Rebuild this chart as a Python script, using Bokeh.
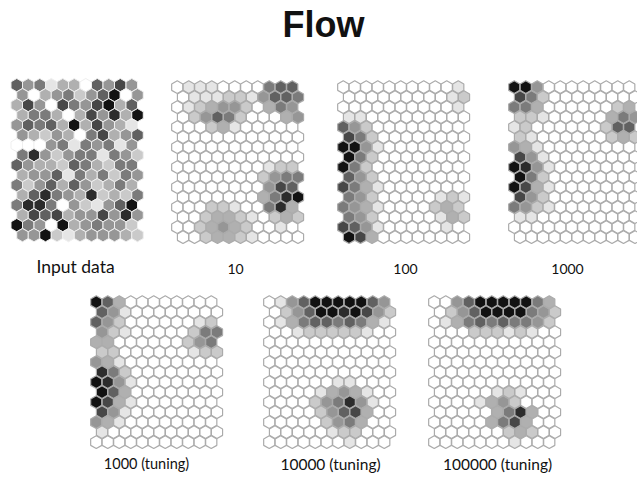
import numpy as np
from bokeh.plotting import figure
from bokeh.models import ColumnDataSource, Range1d
from bokeh.core.properties import value
from bokeh.embed import file_html
from bokeh.resources import INLINE

# ---------------- data (grey level per hex cell: 0 = white ... 9 = black) ----------------
TITLE = "Flow"
MAP_LABELS = ["Input data", "10", "100", "1000",
              "1000 (tuning)", "10000 (tuning)", "100000 (tuning)"]

INPUT_DATA = [
    "64513306474", "40345246904", "37407547936", "35530374839",
    "46563937431", "43243057346", "00045154514", "58424551542",
    "64332653255", "34461535254", "52463642353", "36854382325",
    "58850421469", "37673447484", "95409345442", "44921344432",
]
MAP_10 = [
    "01110000566", "01112214665", "01234420354", "02465200034",
    "00023100000", "00000000000", "00000000000", "00000000000",
    "00000000122", "00000002455", "00000000476", "00000003589",
    "00022100583", "00233210232", "00234320010", "00233210000",
]
MAP_100 = [
    "00000000001", "00000000012", "00000000001", "11000000000",
    "64200000000", "75200000000", "99410000000", "95200000000",
    "95200000000", "64200000000", "75310000000", "54200000121",
    "54310000232", "54200000132", "76410000010", "97300000000",
]
MAP_1000 = [
    "99400000000", "75200000000", "55300000023", "22100000354",
    "12000000266", "21000000232", "43100000000", "74100000000",
    "98410000000", "95200000000", "97310000000", "74200000000",
    "54210000000", "11000000000", "00000000000", "00000000000",
]
MAP_1000_TUNING = [
    "96300000000", "64100000000", "64200000012", "42100000255",
    "33000000245", "22000000122", "43100000000", "85200000000",
    "98410000000", "96300000000", "97310000000", "74100000000",
    "43100000000", "10000000000", "00000000000",
]
MAP_10000_TUNING = [
    "01469999964", "02469989742", "01356656531", "00122222100",
    "00000000000", "00000000000", "00000000000", "00000000000",
    "00000011000", "00001343100", "00002458410", "00002467300",
    "00000245300", "00000122000", "00000001000",
]
MAP_100000_TUNING = [
    "00469999953", "02469999542", "01356565542", "00022212100",
    "00000000000", "00000000000", "00000000000", "00000000000",
    "00000000000", "00000121000", "00001342000", "00000358300",
    "00000357300", "00000023200", "00000001000",
]
MAPS = [INPUT_DATA, MAP_10, MAP_100, MAP_1000,
        MAP_1000_TUNING, MAP_10000_TUNING, MAP_100000_TUNING]

# ---------------- layout (figure pixel units) ----------------
W, H = 637, 482
HEX_W = 11.5                      # flat-to-flat width
HEX_R = HEX_W / np.sqrt(3)        # circumradius
ROW_DY = 10.0
MAP_ORIGINS = [(10.5, 78), (171, 80), (337, 80), (508, 80),
               (90, 295), (263, 295), (428, 295)]
LABEL_POS = [(75, 266), (235, 268), (405, 268), (567, 268),
             (146, 463), (330, 463), (497, 463)]
LABEL_SIZES = ["17.5px", "14px", "14px", "14px", "14.5px", "15.5px", "15.5px"]


def grey(level):
    v = int(round(255 - level * (255 - 18) / 9.0))
    return "#%02x%02x%02x" % (v, v, v)


p = figure(width=W, height=H, output_backend="svg", toolbar_location=None,
           x_range=Range1d(0, W), y_range=Range1d(H, 0),
           x_axis_type=None, y_axis_type=None, min_border=0)
p.grid.visible = False
p.outline_line_color = None
p.background_fill_color = "white"
p.border_fill_color = "white"

for k, (rows, (x0, y0)) in enumerate(zip(MAPS, MAP_ORIGINS)):
    xs, ys, cols = [], [], []
    for r, line in enumerate(rows):
        for c, ch in enumerate(line):
            xs.append(x0 + HEX_W / 2 + c * HEX_W + (r % 2) * HEX_W / 2)
            ys.append(y0 + HEX_R + r * ROW_DY)
            cols.append(grey(int(ch)))
    src = ColumnDataSource(dict(x=xs, y=ys, color=cols))
    if k == 0:
        p.scatter("x", "y", source=src, marker="hex", size=2 * HEX_R,
                  angle=np.pi / 2, fill_color="color",
                  line_color="#efefef", line_width=1.0)
    else:
        p.scatter("x", "y", source=src, marker="hex", size=2 * HEX_R - 0.4,
                  angle=np.pi / 2, fill_color="color",
                  line_color="#ababab", line_width=1.2)

lab = ColumnDataSource(dict(x=[q[0] for q in LABEL_POS],
                            y=[q[1] for q in LABEL_POS], t=MAP_LABELS,
                            fs=LABEL_SIZES))
p.text("x", "y", text="t", source=lab, text_font=value("Lato"),
       text_font_size="fs", text_align="center", text_baseline="middle",
       text_color="#111111")

p.text(x=[323], y=[23.5], text=[TITLE], text_font=value("Liberation Sans"),
       text_font_size="36px", text_font_style="bold", text_align="center",
       text_baseline="middle", text_color="#111111")

open("out.html", "w").write(file_html(p, INLINE))
